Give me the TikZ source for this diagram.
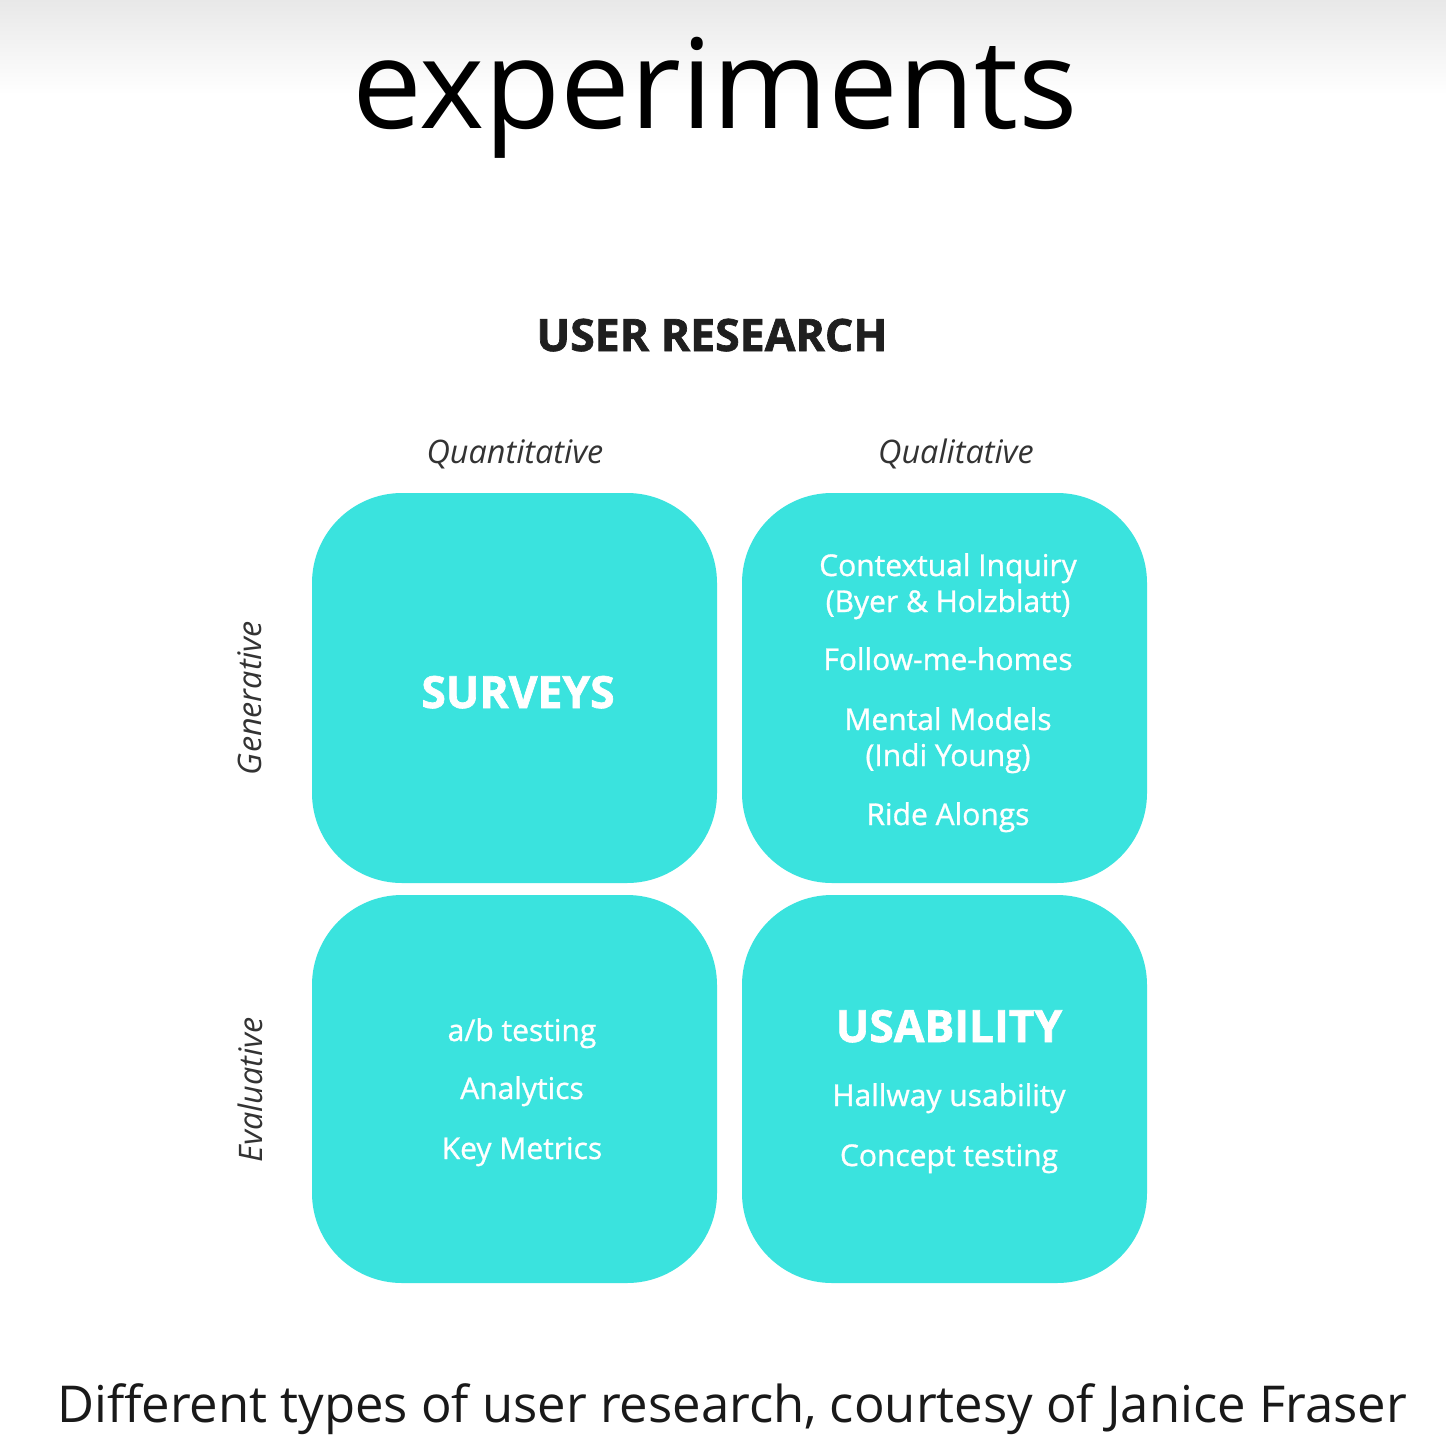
\documentclass[tikz,border=0pt]{standalone}
\usepackage{fontspec}
\setmainfont{Open Sans}
\newfontfamily\semifont[FakeBold=1]{Open Sans}
\newfontfamily\heavyfont[BoldFeatures={FakeBold=1.5}]{Open Sans}
\begin{document}
\begin{tikzpicture}[x=0.5pt,y=-0.5pt,
  quad/.style={fill=teal2, draw=none, rounded corners=45pt},
  body/.style={text=white, font=\semifont\fontsize{15}{18}\selectfont, align=center, anchor=base},
  head/.style={text=white, font=\heavyfont\fontsize{22.2}{28}\selectfont\bfseries, anchor=base},
  axis/.style={text=black!80, font=\fontsize{16.2}{18}\selectfont\itshape},
]
\definecolor{teal2}{RGB}{58,227,222}
\useasboundingbox (0,0) rectangle (1446,1446);
\fill[white] (0,0) rectangle (1446,1446);
\shade[top color=black!9, bottom color=white] (0,0) rectangle (1446,95);
% title
\node[anchor=base, font=\fontsize{62.2}{70}\selectfont, text=black] (title) at (715,128) {experiments};
\node[anchor=base, font=\heavyfont\fontsize{22.3}{28}\selectfont\bfseries, text=black!88] (ur) at (712,351) {USER RESEARCH};
\node[axis, anchor=base] (quant) at (515,463) {Quantitative};
\node[axis, anchor=base] (qual) at (956,463) {Qualitative};
\node[axis, rotate=90] (gen) at (250,698) {Generative};
\node[axis, rotate=90] (eval) at (250,1090) {Evaluative};
% boxes
\path[quad] (312,493) rectangle (717,883);
\path[quad] (742,493) rectangle (1147,883);
\path[quad] (312,895) rectangle (717,1283);
\path[quad] (742,895) rectangle (1147,1283);
% contents
\node[head] (surveys) at (518,708) {SURVEYS};
\node[body] (ci1) at (948,576) {Contextual Inquiry};
\node[body] (ci2) at (948,612) {(Byer \& Holzblatt)};
\node[body] (fmh) at (948,670) {Follow-me-homes};
\node[body] (mm1) at (948,730) {Mental Models};
\node[body] (mm2) at (948,766) {(Indi Young)};
\node[body] (ra) at (948,825) {Ride Alongs};
\node[body] (ab) at (522,1041) {a/b testing};
\node[body] (an) at (522,1099) {Analytics};
\node[body] (km) at (522,1159) {Key Metrics};
\node[head] (usab) at (949,1042) {USABILITY};
\node[body] (hu) at (949,1106) {Hallway usability};
\node[body] (ct) at (949,1166) {Concept testing};
% caption
\node[anchor=base, font=\fontsize{25.4}{30}\selectfont, text=black!90] (cap) at (732,1422) {Different types of user research, courtesy of Janice Fraser};
\end{tikzpicture}
\end{document}
